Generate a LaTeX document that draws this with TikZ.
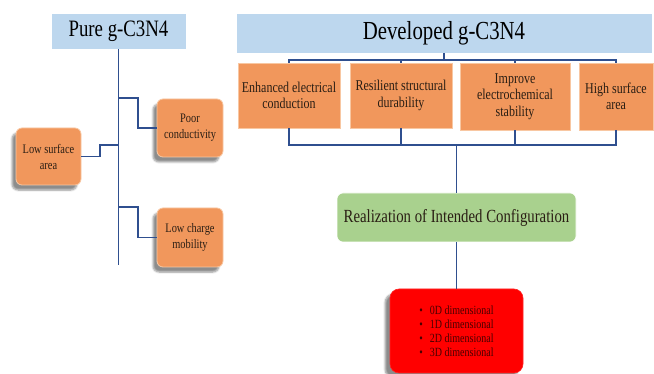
\documentclass[tikz,border=0pt]{standalone}
\usepackage{fontspec}
\setmainfont{Liberation Serif}
\newfontfamily\cond[FakeStretch=0.8]{Liberation Serif}
\usetikzlibrary{shadows.blur}
\definecolor{hdrblue}{HTML}{BDD7EE}
\definecolor{boxorange}{HTML}{F1975C}
\definecolor{boxedge}{HTML}{F8C7A2}
\definecolor{boxgreen}{HTML}{A9D18E}
\definecolor{linkblue}{HTML}{2F4F8F}
\definecolor{darkred}{HTML}{4A0000}
\definecolor{txt}{HTML}{2A1E14}
\tikzset{
  hdr/.style={fill=hdrblue, draw=white, line width=0.6pt, inner sep=0pt, text=black, font=\cond\fontsize{23.5}{25}\selectfont},
  rbox/.style={fill=boxorange, draw=boxedge, line width=0.8pt, rounded corners=6pt, inner sep=0pt, align=center, text=txt,
    font=\cond\fontsize{13}{16}\selectfont, blur shadow={shadow xshift=-4pt, shadow yshift=-5pt, shadow blur steps=6, shadow opacity=45}},
  sbox/.style={fill=boxorange, draw=boxedge, line width=0.6pt, inner sep=0pt, align=center, text=txt,
    font=\cond\fontsize{15}{16.5}\selectfont},
  gbox/.style={fill=boxgreen, draw=white, line width=0.6pt, rounded corners=6pt, inner sep=0pt, text=txt,
    font=\cond\fontsize{18.5}{20}\selectfont},
  redbox/.style={fill=red, draw=red!85!white, line width=0.6pt, rounded corners=9pt, inner sep=0pt, align=left, text=darkred,
    font=\cond\fontsize{12.5}{14}\selectfont, blur shadow={shadow xshift=-5pt, shadow yshift=-5pt, shadow blur steps=6, shadow opacity=45}},
  link/.style={draw=linkblue, line width=1.1pt}
}
\begin{document}
\begin{tikzpicture}[x=1pt,y=-1pt]
\useasboundingbox (0,0) rectangle (654,374);
% headers
\node[hdr, minimum width=135pt, minimum height=36pt] (pure) at (118.5,31) {Pure g-C3N4};
\node[hdr, minimum width=416pt, minimum height=40pt, font=\cond\fontsize{26}{28}\selectfont] (dev) at (444,33) {Developed g-C3N4};
% left side boxes
\node[rbox, minimum width=65pt, minimum height=57pt] (lowsurf) at (48.5,156.5) {Low surface\\area};
\node[rbox, minimum width=66pt, minimum height=58pt] (poor) at (190,128) {Poor\\conductivity};
\node[rbox, minimum width=66pt, minimum height=59pt] (charge) at (190,237.5) {Low charge\\mobility};
% trunk
\coordinate (trunkend) at (118.5,265);
\coordinate (ta) at (118.5,98);
\coordinate (tb) at (118.5,145);
\coordinate (tc) at (118.5,207);
\draw[link] (pure.south) -- (trunkend);
\draw[link] (ta) -- (138,98) |- (poor.west);
\draw[link] (tb) -- (100,145) |- (lowsurf.east);
\draw[link] (tc) -- (138,207) |- (charge.west);
% developed boxes
\node[sbox, minimum width=102pt, minimum height=65pt] (b1) at (289,95.5) {Enhanced electrical\\conduction};
\node[sbox, minimum width=102pt, minimum height=65pt] (b2) at (401,95.5) {Resilient structural\\durability};
\node[sbox, minimum width=110pt, minimum height=67pt] (b3) at (515,96.5) {Improve\\electrochemical\\stability};
\node[sbox, minimum width=74pt, minimum height=67pt] (b4) at (616,96.5) {High surface\\area};
\coordinate (topbar) at (0,60);
\coordinate (botbar) at (0,145);
\draw[link] (b1.north) |- (b4.north |- topbar) -- (b4.north);
\draw[link] (b2.north) -- (b2.north |- topbar);
\draw[link] (b3.north) -- (b3.north |- topbar);
\draw[link] (dev.south) -- (dev.south |- topbar);
% green and red
\node[gbox, minimum width=239pt, minimum height=49pt] (real) at (456.5,217.5) {Realization of Intended Configuration};
\node[redbox, minimum width=133pt, minimum height=84pt] (dims) at (456.5,331)
  {\textbullet\hspace{7pt}0D dimensional\\\textbullet\hspace{7pt}1D dimensional\\\textbullet\hspace{7pt}2D dimensional\\\textbullet\hspace{7pt}3D dimensional};
\draw[link] (b1.south) |- (b4.south |- botbar) -- (b4.south);
\draw[link] (b2.south) -- (b2.south |- botbar);
\draw[link] (b3.south) -- (b3.south |- botbar);
\draw[link] (real.north |- botbar) -- (real.north);
\draw[link] (real.south) -- (dims.north);
\end{tikzpicture}
\end{document}
